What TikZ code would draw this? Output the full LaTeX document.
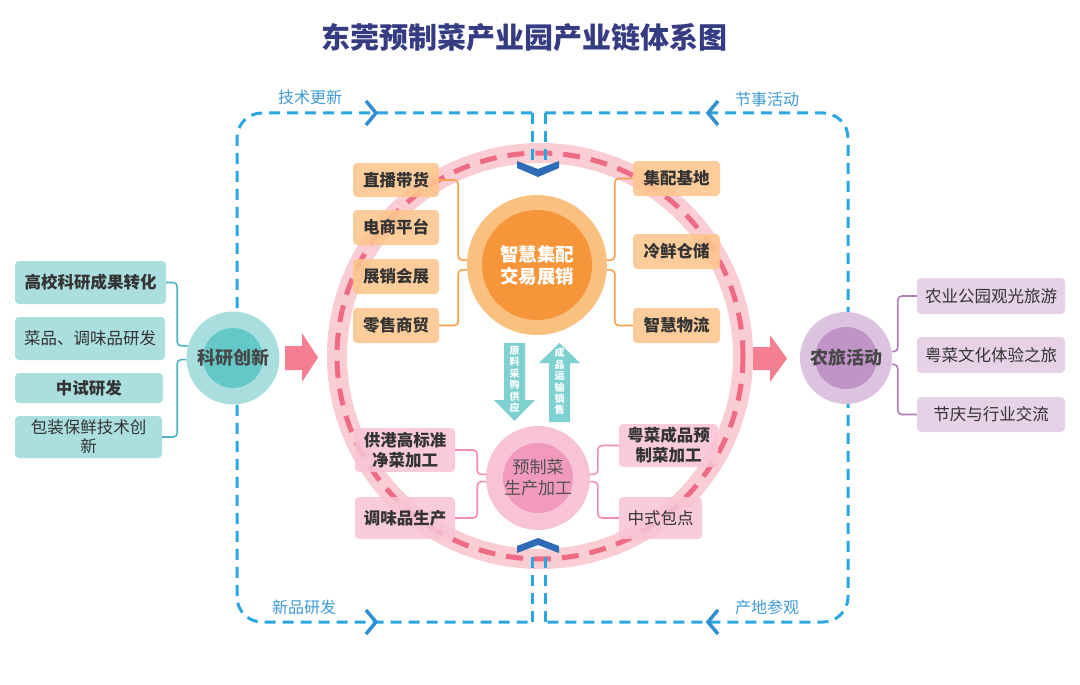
\documentclass[tikz,border=0pt]{standalone}
\usepackage{fontspec}
\setmainfont{Noto Sans CJK SC}
\usetikzlibrary{calc}
\definecolor{titlec}{HTML}{363C82}
\definecolor{txt}{HTML}{333333}
\definecolor{tealbox}{HTML}{9FDADA}
\definecolor{tealline}{HTML}{4BB3C1}
\definecolor{tealout}{HTML}{A9DEDE}
\definecolor{tealin}{HTML}{64C8C8}
\definecolor{orbox}{HTML}{FCC58C}
\definecolor{orline}{HTML}{F5A04C}
\definecolor{orout}{HTML}{F9C07F}
\definecolor{orin}{HTML}{F7953A}
\definecolor{pkbox}{HTML}{F8C4D6}
\definecolor{pkline}{HTML}{F28EAB}
\definecolor{pkout}{HTML}{F8C3D6}
\definecolor{pkin}{HTML}{F29ABC}
\definecolor{ppbox}{HTML}{E3CBE4}
\definecolor{ppline}{HTML}{B27CB9}
\definecolor{ppout}{HTML}{DCC4E0}
\definecolor{ppin}{HTML}{C094C7}
\definecolor{redarrow}{HTML}{F37F90}
\definecolor{tealarrow}{HTML}{7FD0D0}
\definecolor{bluedashc}{HTML}{2AA7E1}
\definecolor{chevc}{HTML}{2F8FD0}
\definecolor{labc}{HTML}{3F9AD6}
\definecolor{darkchev}{HTML}{2F6CB8}
\definecolor{ringc}{HTML}{F9CDD3}
\definecolor{ringdash}{HTML}{EF6B84}
\tikzset{
  box/.style={rectangle, rounded corners=4pt, inner sep=0pt, align=center, text=txt,
    fill opacity=0.88, text opacity=1, font=\fontsize{16.5}{20}\selectfont},
  tbox/.style={box, fill=tealbox},
  obox/.style={box, fill=orbox},
  pbox/.style={box, fill=pkbox},
  vbox/.style={box, fill=ppbox},
  conn/.style={line width=1.6pt, rounded corners=4pt},
  bluedash/.style={draw=bluedashc, line width=3pt, dash pattern=on 11pt off 7pt},
  chevline/.style={draw=chevc, line width=3.5pt},
  lab/.style={text=labc, font=\fontsize{16}{18}\selectfont},
  vtext/.style={text=white, align=center, font=\fontsize{10}{11.4}\selectfont\bfseries},
}
\begin{document}
\begin{tikzpicture}[x=1pt,y=-1pt]
\useasboundingbox (0,0) rectangle (1080,685);
% title
\node[text=titlec, font=\fontsize{29}{32}\selectfont\bfseries] (title) at (524,38) {东莞预制菜产业园产业链体系图};

% ring
\draw[ringc, line width=20pt] (540,356) circle[radius=203];
\draw[ringdash, line width=5pt, dash pattern=on 17pt off 11pt] (540,356) circle[radius=203];

% blue dashed loop
\draw[bluedash, rounded corners=25pt] (532,113) -- (237,113) -- (237,622) -- (532,622);
\draw[bluedash] (532,113) -- (532,165);
\draw[bluedash] (532,622) -- (532,557);
\draw[bluedash, rounded corners=25pt] (545,113) -- (848,113) -- (848,622) -- (545,622);
\draw[bluedash] (545,113) -- (545,165);
\draw[bluedash] (545,622) -- (545,557);
% chevrons on loop
\draw[chevline] (366,101) -- (376,113) -- (366,125);
\draw[chevline] (366,610) -- (376,622) -- (366,634);
\draw[chevline] (718,101) -- (708,113) -- (718,125);
\draw[chevline] (718,610) -- (708,622) -- (718,634);
\node[lab] (l1) at (310,97) {技术更新};
\node[lab] (l2) at (767,99) {节事活动};
\node[lab] (l3) at (304,607) {新品研发};
\node[lab] (l4) at (767,607) {产地参观};

% dark chevrons on ring
\fill[darkchev] (517,161) -- (538,169) -- (559,161) -- (559,168) -- (538,177) -- (517,168) -- cycle;
\fill[darkchev] (517,553) -- (538,545) -- (559,553) -- (559,546) -- (538,538) -- (517,546) -- cycle;

% left circle
\fill[tealout] (233,358) circle[radius=46.5];
\fill[tealin] (233,358) circle[radius=30];
\node[text=txt!90, font=\fontsize{18}{20}\selectfont\bfseries, circle, minimum size=93pt, inner sep=0pt] (kc) at (233,358) {科研创新};

% left boxes
\node[tbox, minimum width=151pt, minimum height=43pt, font=\fontsize{16.5}{20}\selectfont\bfseries] (b1) at (90.5,282.5) {高校科研成果转化};
\node[tbox, minimum width=150pt, minimum height=43pt] (b2) at (90,338.5) {菜品、调味品研发};
\node[tbox, minimum width=148pt, minimum height=30pt, font=\fontsize{16.5}{20}\selectfont\bfseries] (b3) at (89,388) {中试研发};
\node[tbox, minimum width=147pt, minimum height=42pt, font=\fontsize{16.5}{19}\selectfont] (b4) at (88.5,437) {包装保鲜技术创\\新};
\draw[conn, tealline] (b1.east) -- ++(11,0) |- (kc.165);
\draw[conn, tealline] (b4.east) -- ++(15,0) |- (kc.182);

% left red arrow
\fill[redarrow] (285,346) -- (302,346) -- (302,333) -- (318,357.5) -- (302,382) -- (302,370) -- (285,370) -- cycle;

% right circle
\fill[ppout] (846,358) circle[radius=46];
\fill[ppin] (846,358) circle[radius=31];
\node[text=txt!90, font=\fontsize{18}{20}\selectfont\bfseries, circle, minimum size=92pt, inner sep=0pt] (nc) at (846,358) {农旅活动};
\fill[redarrow] (753,347) -- (770,347) -- (770,335) -- (787,358.5) -- (770,382) -- (770,370) -- (753,370) -- cycle;

% right boxes
\node[vbox, minimum width=148pt, minimum height=36pt] (r1) at (991,296) {农业公园观光旅游};
\node[vbox, minimum width=148pt, minimum height=36pt] (r2) at (991,355) {粤菜文化体验之旅};
\node[vbox, minimum width=148pt, minimum height=35pt] (r3) at (991,414.5) {节庆与行业交流};
\draw[conn, ppline] (r1.west) -- ++(-19,0) |- (nc.8);
\draw[conn, ppline] (r3.west) -- ++(-19,0) |- (nc.-8);

% orange center
\fill[orout] (537,265) circle[radius=70];
\fill[orin] (537,265) circle[radius=55];
\node[text=white, align=center, font=\fontsize{18.5}{22}\selectfont\bfseries, circle, minimum size=140pt, inner sep=0pt] (oc) at (537,265) {智慧集配\\交易展销};

\node[obox, minimum width=86pt, minimum height=34pt, font=\fontsize{16.5}{20}\selectfont\bfseries] (o1) at (396,180) {直播带货};
\node[obox, minimum width=86pt, minimum height=35pt, font=\fontsize{16.5}{20}\selectfont\bfseries] (o2) at (396,227.5) {电商平台};
\node[obox, minimum width=86pt, minimum height=35pt, font=\fontsize{16.5}{20}\selectfont\bfseries] (o3) at (396,276.5) {展销会展};
\node[obox, minimum width=86pt, minimum height=35pt, font=\fontsize{16.5}{20}\selectfont\bfseries] (o4) at (396,325.5) {零售商贸};
\node[obox, minimum width=87pt, minimum height=35pt, font=\fontsize{16.5}{20}\selectfont\bfseries] (o5) at (676.5,178.5) {集配基地};
\node[obox, minimum width=87pt, minimum height=35pt, font=\fontsize{16.5}{20}\selectfont\bfseries] (o6) at (676.5,251.5) {冷鲜仓储};
\node[obox, minimum width=87pt, minimum height=35pt, font=\fontsize{16.5}{20}\selectfont\bfseries] (o7) at (676.5,325.5) {智慧物流};
\draw[conn, orline] (o1.east) -- ++(19,0) |- (oc.176);
\draw[conn, orline] (o4.east) -- ++(19,0) |- (oc.184);
\draw[conn, orline] (o5.west) -- ++(-18,0) |- (oc.4);
\draw[conn, orline] (o7.west) -- ++(-18,0) |- (oc.-4);

% vertical arrows
\fill[tealarrow] (504,343) -- (525,343) -- (525,400) -- (535,400) -- (514.5,421) -- (494,400) -- (504,400) -- cycle;
\node[vtext] (va) at (514.5,379.5) {原\\料\\采\\购\\供\\应};
\fill[tealarrow] (559.5,343) -- (580,363) -- (570,363) -- (570,422) -- (549,422) -- (549,363) -- (539,363) -- cycle;
\node[vtext] (vb) at (559.5,381.5) {成\\品\\运\\输\\销\\售};

% pink center
\fill[pkout] (538,478) circle[radius=52];
\fill[pkin] (538,478) circle[radius=35];
\node[text=txt!85, align=center, font=\fontsize{17}{21}\selectfont, circle, minimum size=104pt, inner sep=0pt] (pc) at (538,478) {预制菜\\生产加工};

\node[pbox, minimum width=100pt, minimum height=44pt, font=\fontsize{16.5}{20}\selectfont\bfseries] (p1) at (405,450) {供港高标准\\净菜加工};
\node[pbox, minimum width=100pt, minimum height=42pt, font=\fontsize{16.5}{20}\selectfont\bfseries] (p2) at (405,518) {调味品生产};
\node[pbox, minimum width=99pt, minimum height=43pt, font=\fontsize{16.5}{20}\selectfont\bfseries] (p3) at (668.5,445.5) {粤菜成品预\\制菜加工};
\node[pbox, minimum width=83pt, minimum height=42pt] (p4) at (660.5,518) {中式包点};
\draw[conn, pkline] (p1.east) -- ++(22,0) |- (pc.176);
\draw[conn, pkline] (p2.east) -- ++(22,0) |- (pc.184);
\draw[conn, pkline] (p3.west) -- ++(-21,0) |- (pc.4);
\draw[conn, pkline] (p4.west) -- ++(-21,0) |- (pc.-4);
\end{tikzpicture}
\end{document}
